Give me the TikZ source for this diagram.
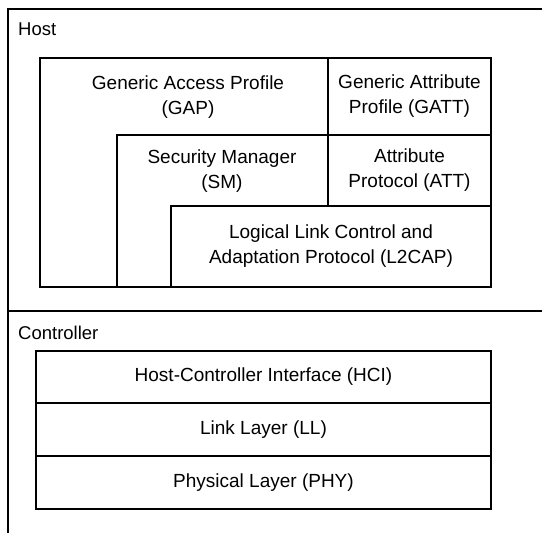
\documentclass[tikz,border=0pt]{standalone}
\usepackage{fontspec}
\setmainfont{Liberation Sans}
\usetikzlibrary{positioning}

\begin{document}
\begin{tikzpicture}[x=1pt, y=-1pt]
        \tikzstyle{layer} = [rectangle, draw, line width=1.3pt, inner sep=0pt, outer sep=0pt, align=center, font=\fontsize{19}{25}\selectfont]
        \tikzstyle{tag} = [inner sep=0pt, anchor=west, font=\fontsize{18.5}{25}\selectfont]
        \tikzstyle{txt} = [inner sep=0pt, align=center, font=\fontsize{19}{25}\selectfont]
        \useasboundingbox (0,0) rectangle (542,533);
        % host / controller frame
        \draw[line width=1.8pt] (8,533) -- (8,9) -- (542,9);
        \draw[line width=1.8pt] (8,311) -- (542,311);
        \node[tag] (host) at (18,29) {Host};
        \node[tag] (ctrl) at (18,333) {Controller};
        % host stack
        \draw[line width=1.3pt] (40,58) rectangle (491,287);
        \draw[line width=1.3pt] (117,287) -- (117,135) -- (328,135);
        \node[txt] (gap) at (188,97) {Generic Access Profile\\(GAP)};
        \node[txt] (sm) at (222,171) {Security Manager\\(SM)};
        \node[layer, minimum width=163pt, minimum height=77pt] (gatt) at (409.5,96.5) {Generic Attribute\\Profile (GATT)};
        \node[layer, minimum width=163pt, minimum height=71pt, below=0pt of gatt] (att) {Attribute\\Protocol (ATT)};
        \node[layer, minimum width=320pt, minimum height=81pt, anchor=north east] (l2cap) at (att.south east) {Logical Link Control and\\Adaptation Protocol (L2CAP)};
        % controller stack
        \node[layer, minimum width=455pt, minimum height=52pt] (hci) at (263.5,377) {Host-Controller Interface (HCI)};
        \node[layer, minimum width=455pt, minimum height=53pt, below=0pt of hci] (ll) {Link Layer (LL)};
        \node[layer, minimum width=455pt, minimum height=53pt, below=0pt of ll] (phy) {Physical Layer (PHY)};
\end{tikzpicture}
\end{document}
